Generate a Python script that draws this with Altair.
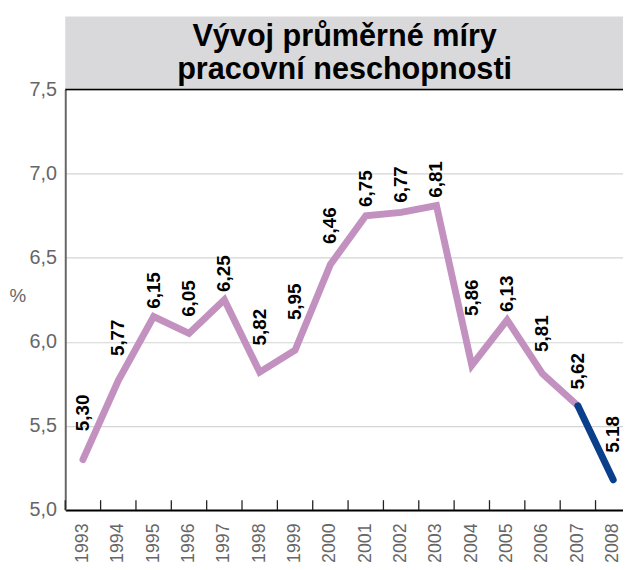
import altair as alt
import pandas as pd

years = [1993, 1994, 1995, 1996, 1997, 1998, 1999, 2000,
         2001, 2002, 2003, 2004, 2005, 2006, 2007, 2008]
values = [5.30, 5.77, 6.15, 6.05, 6.25, 5.82, 5.95, 6.46,
          6.75, 6.77, 6.81, 5.86, 6.13, 5.81, 5.62, 5.18]
labels = ["5,30", "5,77", "6,15", "6,05", "6,25", "5,82", "5,95", "6,46",
          "6,75", "6,77", "6,81", "5,86", "6,13", "5,81", "5,62", "5.18"]
title_lines = ["Vývoj průměrné míry", "pracovní neschopnosti"]

PURPLE = "#c391c0"
BLUE = "#0a3f8c"
W, H = 565, 426

# line segments: purple up to 2007, blue 2007-2008
rows = []
for yr, v in zip(years, values):
    if yr <= 2007:
        rows.append({"year": str(yr), "value": v, "seg": "a"})
    if yr >= 2007:
        rows.append({"year": str(yr), "value": v, "seg": "b"})
line_df = pd.DataFrame(rows)

# label anchor: above the line near the point (avoid neighbouring segments)
f = 0.26
anchors = []
for i, v in enumerate(values):
    cands = [v]
    if i > 0:
        cands.append(v + f * (values[i - 1] - v))
    if i < len(values) - 1:
        cands.append(v + f * (values[i + 1] - v))
    anchors.append(max(cands))
lab_df = pd.DataFrame({"year": [str(y) for y in years], "anchor": anchors, "label": labels})
tick_df = pd.DataFrame({"year": [str(y) for y in years]})

xscale = alt.Scale(type="band", domain=[str(y) for y in years], range=[0, 573],
                   paddingInner=0, paddingOuter=0)
yscale = alt.Scale(domain=[5.0, 7.5], nice=False, zero=False)

box = alt.Chart(pd.DataFrame({"a": [0]})).mark_rect(color="#d9d9db").encode(
    x=alt.value(0), x2=alt.value(W), y=alt.value(-74), y2=alt.value(0)
)
t1 = alt.Chart(pd.DataFrame({"t": [title_lines[0]]})).mark_text(
    font="Liberation Sans", fontWeight="bold", fontSize=31, color="black",
    align="center", baseline="alphabetic"
).encode(x=alt.value(283), y=alt.value(-44), text="t:N")
t2 = alt.Chart(pd.DataFrame({"t": [title_lines[1]]})).mark_text(
    font="Liberation Sans", fontWeight="bold", fontSize=31, color="black",
    align="center", baseline="alphabetic"
).encode(x=alt.value(283), y=alt.value(-11), text="t:N")

top_rule = alt.Chart(pd.DataFrame({"a": [0]})).mark_rule(color="black", strokeWidth=1.5).encode(
    x=alt.value(0), x2=alt.value(W), y=alt.value(0)
)

line = alt.Chart(line_df).mark_line(strokeWidth=7, strokeCap="round").encode(
    x=alt.X("year:O", scale=xscale,
            axis=alt.Axis(title=None, labelAngle=270, labelAlign="right", labelBaseline="middle",
                          labelFontSize=18, labelColor="#666", labelFont="Liberation Sans",
                          labelPadding=13, ticks=False, domainColor="black", domainWidth=2,
                          grid=False)),
    y=alt.Y("value:Q", scale=yscale,
            axis=alt.Axis(title="%", titleAngle=0, titleX=-57, titleY=209, titleAlign="left",
                          titleBaseline="middle", titleFontSize=19, titleFontWeight="normal",
                          titleColor="#666", titleFont="Liberation Sans",
                          values=[5.0, 5.5, 6.0, 6.5, 7.0, 7.5],
                          labelExpr="replace(format(datum.value, '.1f'), '.', ',')",
                          labelFontSize=20, labelColor="#666", labelFont="Liberation Sans",
                          labelPadding=9, ticks=False, domainColor="#666", domainWidth=2,
                          grid=True, gridColor="#d4d4d4", gridWidth=1.2)),
    color=alt.Color("seg:N", scale=alt.Scale(domain=["a", "b"], range=[PURPLE, BLUE]), legend=None),
    detail="seg:N",
)

xticks = alt.Chart(tick_df).mark_rule(color="#222", strokeWidth=1.3).encode(
    x=alt.X("year:O", scale=xscale, bandPosition=0),
    y=alt.value(H - 10), y2=alt.value(H),
)

text = alt.Chart(lab_df).mark_text(
    angle=270, align="left", baseline="middle", dx=8,
    font="Liberation Sans", fontWeight="bold", fontSize=19, color="black"
).encode(
    x=alt.X("year:O", scale=xscale),
    y=alt.Y("anchor:Q", scale=yscale),
    text="label:N",
)

chart = alt.layer(box, t1, t2, line, top_rule, xticks, text).properties(
    width=W, height=H,
    autosize=alt.AutoSizeParams(type="none"),
    padding={"left": 58, "top": 79, "right": 0, "bottom": 49},
).configure_view(stroke=None)

chart.save("out.html", embed_options={"renderer": "svg", "actions": False})
